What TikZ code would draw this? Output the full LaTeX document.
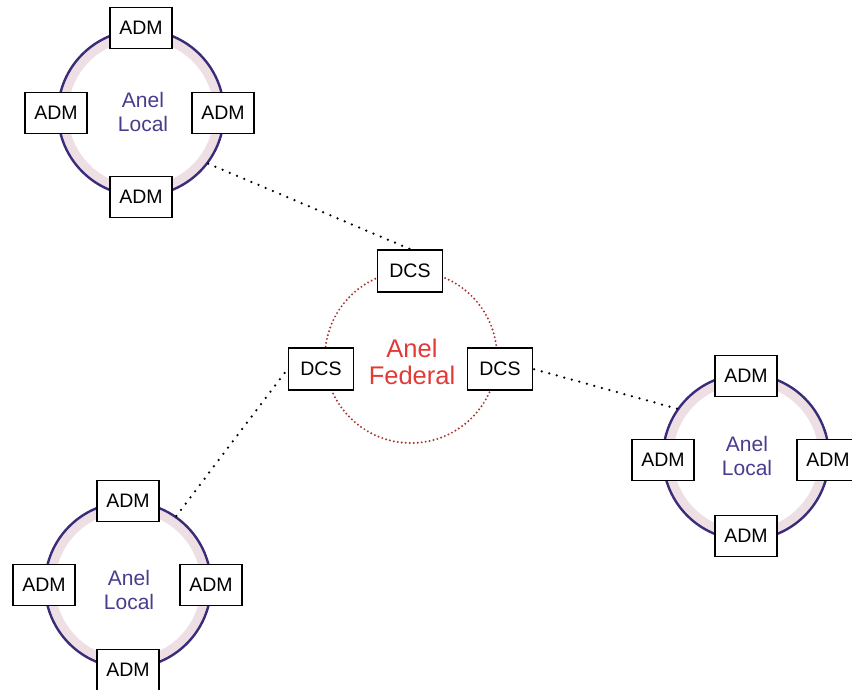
\documentclass[tikz,border=0pt]{standalone}
\usepackage{fontspec}
\setmainfont{Liberation Sans}
\begin{document}
\begin{tikzpicture}[x=1pt,y=-1pt,
  box/.style={draw=black, line width=1.9pt, fill=white, minimum width=62pt,
    minimum height=41pt, inner sep=0pt, font=\fontsize{19.5}{21}\selectfont},
  dcsbox/.style={box, minimum width=65pt, minimum height=42pt},
  ringline/.style={circle, draw=ringpurple, line width=2.4pt, minimum size=166pt, inner sep=0pt},
  ringband/.style={draw=ringpink, line width=9pt},
  ringlabel/.style={align=center, text=labelpurple, font=\fontsize{21}{24.5}\selectfont},
  link/.style={draw=black, line width=2.5pt, line cap=round, dash pattern=on 0pt off 7.8pt},
  fedring/.style={circle, draw=fedred, line width=2.2pt, line cap=round,
    dash pattern=on 0pt off 4pt, minimum size=172pt, inner sep=0pt}
]
\definecolor{ringpurple}{HTML}{3A2C78}
\definecolor{ringpink}{HTML}{EEDFE4}
\definecolor{labelpurple}{HTML}{4B3B8E}
\definecolor{fedred}{HTML}{A8342F}
\definecolor{textred}{HTML}{E23A36}

\useasboundingbox[fill=white] (0,0) rectangle (852,689);

% local ring, top left
\draw[ringband] (141,113) circle[radius=77.5pt];
\node[ringline] (tl) at (141,113) {};
\node[ringlabel] at (143,112) {Anel\\Local};

% local ring, right
\draw[ringband] (746,457) circle[radius=77.5pt];
\node[ringline] (rr) at (746,457) {};
\node[ringlabel] at (747,456) {Anel\\Local};

% local ring, bottom left
\draw[ringband] (128,585) circle[radius=77.5pt];
\node[ringline] (bl) at (128,585) {};
\node[ringlabel] at (129,590) {Anel\\Local};

% federal ring
\node[fedring] (fed) at (411,357) {};
\node[align=center, text=textred, font=\fontsize{25.5}{27.5}\selectfont] at (412,362) {Anel\\Federal};

% ADM boxes
\node[box] (tlN) at (141,28) {ADM};
\node[box] (tlW) at (56,113) {ADM};
\node[box] (tlE) at (223,113) {ADM};
\node[box] (tlS) at (141,197) {ADM};

\node[box] (rrN) at (746,376) {ADM};
\node[box] (rrW) at (663,460) {ADM};
\node[box] (rrE) at (828,460) {ADM};
\node[box] (rrS) at (746,536) {ADM};

\node[box] (blN) at (128,501) {ADM};
\node[box] (blW) at (44,585) {ADM};
\node[box] (blE) at (211,585) {ADM};
\node[box] (blS) at (128,670) {ADM};

% DCS boxes
\node[dcsbox] (dcsN) at (410,271) {DCS};
\node[dcsbox] (dcsW) at (321,369) {DCS};
\node[dcsbox] (dcsE) at (500,369) {DCS};

% links between the rings
\path[link] (tl.-37) -- (dcsN.north);
\path[link] (bl.55) -- (dcsW.west);
\path[link] (rr.145) -- (dcsE.east);
\end{tikzpicture}
\end{document}
